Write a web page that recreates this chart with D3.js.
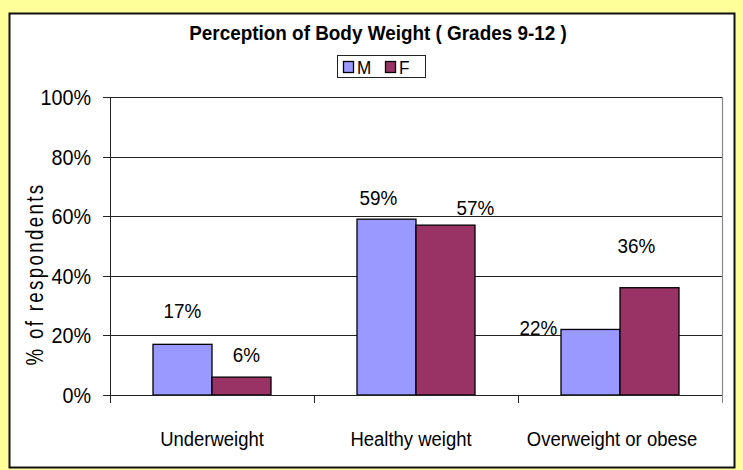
<!DOCTYPE html>
<html>
<head>
<meta charset="utf-8">
<script src="https://cdn.jsdelivr.net/npm/d3@7"></script>
<style>
  html, body { margin: 0; padding: 0; background: #FFFF99; }
  svg { display: block; }
  text { font-family: "Liberation Sans", Arial, sans-serif; fill: #000; }
</style>
</head>
<body>
<svg id="chart" width="743" height="470"></svg>
<script>
// ---- data ----
const categories = ["Underweight", "Healthy weight", "Overweight or obese"];
const seriesNames = ["M", "F"];
const valuesM = [17, 59, 22];
const valuesF = [6, 57, 36];
const yTicks = [0, 20, 40, 60, 80, 100];
const title = "Perception of Body Weight ( Grades 9-12 )";
const yTitle = "% of respondents";

// ---- layout / style (not data) ----
const colors = { M: "#9999FF", F: "#993366" };
const SX = 0.9; // horizontal condensing of the original's narrow type
// manual label nudges [dx, dy] from bar top-centre, as in the original
const labelNudge = {
  M: [[0, -26], [-8, -14], [-52, 6]],
  F: [[5, -15], [30, -10], [-13, -35]]
};
const catLabelNudge = [0, -5, -8];

const svg = d3.select("#chart");
const W = 743, H = 470;
const plot = { left: 110, right: 722, top: 97, bottom: 395 };

// condensed text helper
function ctext(parent, x, y, str, size, anchor, sx, weight) {
  return parent.append("text")
    .attr("transform", `translate(${x},${y}) scale(${sx || SX},1)`)
    .attr("text-anchor", anchor || "middle")
    .attr("font-size", size)
    .attr("font-weight", weight || "normal")
    .text(str);
}

// background & panel
svg.append("rect").attr("x", 0).attr("y", 0).attr("width", W).attr("height", H).attr("fill", "#FFFF99");
svg.append("rect").attr("x", 9.5).attr("y", 13.5).attr("width", 725).attr("height", 454)
  .attr("fill", "#fff").attr("stroke", "#111").attr("stroke-width", 2);

const x0 = d3.scaleBand().domain(categories).range([plot.left, plot.right]);
const groupW = 118;
const x1 = d3.scaleBand().domain(seriesNames).range([0, groupW]);
const y = d3.scaleLinear().domain([0, 100]).range([plot.bottom, plot.top]);

// gridlines
svg.append("g").selectAll("line").data(yTicks.filter(d => d > 0)).join("line")
  .attr("x1", plot.left).attr("x2", plot.right)
  .attr("y1", d => Math.round(y(d)) + 0.5).attr("y2", d => Math.round(y(d)) + 0.5)
  .attr("stroke", "#222").attr("stroke-width", 1);

// right border of plot area
svg.append("line").attr("x1", plot.right + 0.5).attr("x2", plot.right + 0.5)
  .attr("y1", plot.top).attr("y2", plot.bottom).attr("stroke", "#888").attr("stroke-width", 1.2);

// bars
const data = categories.map((c, i) => ({ cat: c, i, vals: [
  { s: "M", v: valuesM[i] }, { s: "F", v: valuesF[i] }] }));

const groups = svg.append("g").selectAll("g").data(data).join("g")
  .attr("transform", d => `translate(${x0(d.cat) + (x0.bandwidth() - groupW) / 2},0)`);

groups.selectAll("rect").data(d => d.vals).join("rect")
  .attr("x", d => x1(d.s)).attr("width", x1.bandwidth())
  .attr("y", d => y(d.v)).attr("height", d => y(0) - y(d.v))
  .attr("fill", d => colors[d.s]).attr("stroke", "#000").attr("stroke-width", 1.3);

// data labels
groups.each(function (d) {
  const g = d3.select(this);
  d.vals.forEach(v => {
    ctext(g, x1(v.s) + x1.bandwidth() / 2 + labelNudge[v.s][d.i][0],
          y(v.v) + labelNudge[v.s][d.i][1], v.v + "%", 21);
  });
});

// y axis ticks + labels
const gy = svg.append("g");
gy.selectAll("line").data(yTicks).join("line")
  .attr("x1", plot.left - 7).attr("x2", plot.left)
  .attr("y1", d => Math.round(y(d)) + 0.5).attr("y2", d => Math.round(y(d)) + 0.5)
  .attr("stroke", "#222");
yTicks.forEach(t => ctext(gy, plot.left - 19, y(t) + 8, t + "%", 22, "end"));
svg.append("line").attr("x1", plot.left + 0.5).attr("x2", plot.left + 0.5)
  .attr("y1", plot.top).attr("y2", plot.bottom + 8).attr("stroke", "#222");

// x axis
svg.append("line").attr("x1", plot.left - 7).attr("x2", plot.right)
  .attr("y1", plot.bottom + 0.5).attr("y2", plot.bottom + 0.5).attr("stroke", "#222").attr("stroke-width", 1.2);
const bounds = categories.map(c => x0(c)).concat([plot.right]);
svg.append("g").selectAll("line").data(bounds).join("line")
  .attr("x1", d => d + 0.5).attr("x2", d => d + 0.5)
  .attr("y1", plot.bottom).attr("y2", plot.bottom + 8)
  .attr("stroke", (d, i) => i === bounds.length - 1 ? "#888" : "#222");
const gx = svg.append("g");
categories.forEach((c, i) => ctext(gx, x0(c) + x0.bandwidth() / 2 + catLabelNudge[i], 446, c, 21, "middle", 0.88));

// title
ctext(svg, 378, 40, title, 21, "middle", 0.9, "bold");

// y title (condensed along its reading direction)
svg.append("text").attr("transform", "translate(43,274) rotate(-90) scale(0.78,1)")
  .attr("text-anchor", "middle").attr("font-size", 24).attr("letter-spacing", 3)
  .text(yTitle);

// legend
const lg = svg.append("g").attr("transform", "translate(337,55)");
lg.append("rect").attr("x", 0.5).attr("y", 0.5).attr("width", 88).attr("height", 22)
  .attr("fill", "#fff").attr("stroke", "#222");
seriesNames.forEach((s, i) => {
  const it = lg.append("g").attr("transform", `translate(${6 + i * 42},0)`);
  it.append("rect").attr("x", 0.5).attr("y", 6.5).attr("width", 10).attr("height", 11)
    .attr("fill", colors[s]).attr("stroke", "#000").attr("stroke-width", 1.3);
  ctext(it, 14, 19, s, 19, "start");
});
</script>
</body>
</html>
